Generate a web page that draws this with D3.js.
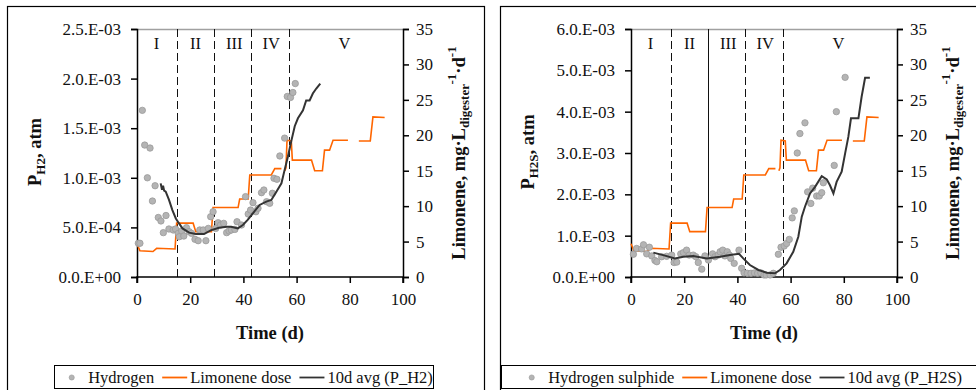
<!DOCTYPE html>
<html><head><meta charset="utf-8">
<script src="https://cdn.jsdelivr.net/npm/d3@7"></script>
<style>
body{margin:0;background:#fff}
svg{display:block;font-family:"Liberation Serif","Times New Roman",serif}
</style>
</head><body>
<svg id="c" width="976" height="390"></svg>
<script>
// ---------- data ----------
const xTicks = [0, 20, 40, 60, 80, 100];
const doseTicks = [0, 5, 10, 15, 20, 25, 30, 35];
const phaseLabels = ["I", "II", "III", "IV", "V"];
const phaseLabelDays = [7.3, 22, 36.6, 50.5, 78];
const phaseBounds = [15, 29, 43, 57];

const h2TickValues = [0, 5e-4, 1e-3, 1.5e-3, 2e-3, 2.5e-3];
const h2TickLabels = ["0.0.E+00", "5.0.E-04", "1.0.E-03", "1.5.E-03", "2.0.E-03", "2.5.E-03"];
const h2sTickValues = [0, 1e-3, 2e-3, 3e-3, 4e-3, 5e-3, 6e-3];
const h2sTickLabels = ["0.0.E+00", "1.0.E-03", "2.0.E-03", "3.0.E-03", "4.0.E-03", "5.0.E-03", "6.0.E-03"];

// Limonene dose (mg/L/d), null = gap
const doseDays =   [0, 1.1, 6, 7.4, 14.3, 14.9, 21.1, 22.1, 28, 28.6, 38, 38.6, 41.8, 42.4, 50.5, 51.8, 54.3, null, 55.6, 56.0, 56.4, 58, 58.4, 65.6, 66.8, 69.7, 70.5, 72.4, 73.7, 79.3, null, 83.4, 87.7, 88.7, 93.1];
const doseValues = [4.7, 3.7, 3.6, 4.05, 3.95, 7.6, 7.6, 6.4, 6.4, 9.8, 9.8, 11, 11, 14.4, 14.4, 15.3, 15.3, null, 15.0, 15.4, 19.3, 19.2, 16.5, 16.5, 15.0, 15.0, 17.9, 17.9, 19.3, 19.3, null, 19.2, 19.2, 22.6, 22.5];

// Hydrogen partial pressure (atm)
const h2Days = [0.5, 1.1, 2.0, 2.9, 4.9, 3.9, 6.8, 5.8, 8.0, 9.0, 10.9, 9.9, 12.0, 13.6, 14.5, 15.5, 15.9, 16.8, 17.6, 18.6, 19.6, 20.5, 21.8, 23.0, 23.6, 24.9, 25.9, 26.8, 27.7, 28.6, 29.6, 30.5, 31.4, 32.6, 33.7, 34.6, 35.5, 36.8, 37.6, 39.3, 40.8, 41.8, 42.7, 43.6, 44.7, 45.5, 46.8, 47.7, 48.7, 49.9, 50.9, 51.5, 52.6, 53.7, 55.5, 56.5, 57.7, 58.6, 59.5];
const h2Values = [3.4e-4, 3.4e-4, 1.68e-3, 1.33e-3, 1.30e-3, 1.00e-3, 9.2e-4, 7.66e-4, 6.0e-4, 5.65e-4, 6.2e-4, 4.47e-4, 4.84e-4, 4.74e-4, 4.84e-4, 4.4e-4, 4.06e-4, 4.64e-4, 4.13e-4, 4.97e-4, 4.57e-4, 4.4e-4, 3.8e-4, 3.66e-4, 4.74e-4, 4.74e-4, 3.66e-4, 4.9e-4, 6.08e-4, 6.58e-4, 4.9e-4, 5.47e-4, 5.24e-4, 5.41e-4, 4.47e-4, 4.64e-4, 4.74e-4, 4.8e-4, 5.57e-4, 5.24e-4, 8.1e-4, 6.35e-4, 6.75e-4, 7.49e-4, 6.58e-4, 6.93e-4, 8.5e-4, 8.77e-4, 7.59e-4, 7.43e-4, 8.44e-4, 9.95e-4, 9.85e-4, 1.22e-3, 1.40e-3, 1.82e-3, 1.81e-3, 1.86e-3, 1.95e-3];

// 10-day average of P_H2 (atm)
const h2AvgDays = [8.9, 9.4, 9.8, 10.2, 10.8, 12.0, 13.3, 14.6, 15.8, 17.1, 19.6, 22.1, 25.2, 27.7, 30.8, 33.8, 35.4, 37.9, 39.8, 41.6, 43.5, 46.1, 48.6, 50.5, 52.4, 54.3, 55.5, 56.7, 58.0, 59.3, 60.5, 62.4, 63.6, 64.9, 66.1, 67.4, 68.9];
const h2AvgValues = [9.44e-4, 8.8e-4, 9.2e-4, 8.7e-4, 8.6e-4, 7.8e-4, 6.75e-4, 5.9e-4, 5.4e-4, 4.9e-4, 4.47e-4, 4.33e-4, 4.33e-4, 4.7e-4, 4.97e-4, 5.07e-4, 5.07e-4, 4.9e-4, 5.24e-4, 5.75e-4, 6.4e-4, 7.26e-4, 7.6e-4, 7.76e-4, 8.6e-4, 9.44e-4, 1.08e-3, 1.21e-3, 1.37e-3, 1.52e-3, 1.6e-3, 1.68e-3, 1.78e-3, 1.78e-3, 1.85e-3, 1.90e-3, 1.95e-3];

// Hydrogen sulphide partial pressure (atm)
const h2sDays = [0.9, 2.1, 4.0, 4.7, 5.9, 6.9, 7.8, 9.0, 9.7, 11.5, 13.4, 15.3, 16.2, 17.2, 18.7, 19.7, 20.9, 21.9, 23.4, 24.4, 25.3, 26.6, 27.8, 29.1, 30.7, 31.6, 32.8, 33.5, 34.5, 35.3, 36.2, 37.0, 37.5, 38.8, 40.6, 41.6, 42.5, 43.7, 45.1, 46.4, 47.6, 48.8, 50.0, 50.8, 52.3, 53.5, 55.4, 56.4, 57.6, 58.5, 59.5, 60.6, 61.4, 62.5, 63.5, 65.4, 66.4, 67.6, 68.3, 69.8, 70.8, 71.7, 72.3, 76.4, 77.2, 80.5];
const h2sValues = [5.5e-4, 6.9e-4, 6.8e-4, 7.8e-4, 5.6e-4, 7.2e-4, 5.1e-4, 4.0e-4, 3.7e-4, 4.9e-4, 5.0e-4, 5.3e-4, 3.5e-4, 3.6e-4, 5.6e-4, 5.9e-4, 6.5e-4, 5.3e-4, 5.3e-4, 4.9e-4, 3.5e-4, 1.9e-4, 5.1e-4, 4.1e-4, 5.6e-4, 4.9e-4, 5.3e-4, 6.1e-4, 6.5e-4, 5.1e-4, 6.1e-4, 5.3e-4, 4.5e-4, 3.3e-4, 6.5e-4, 2.1e-4, 1.0e-4, 9e-5, 9e-5, 1.0e-4, 9e-5, 1.0e-4, 5e-5, 5e-5, 5e-5, 9e-5, 5.5e-4, 7.2e-4, 7.5e-4, 8.1e-4, 9.1e-4, 1.43e-3, 1.6e-3, 3.0e-3, 3.47e-3, 3.73e-3, 2.06e-3, 1.78e-3, 2.15e-3, 1.96e-3, 1.96e-3, 2.04e-3, 2.28e-3, 2.7e-3, 4.0e-3, 4.83e-3];

// 10-day average of P_H2S (atm)
const h2sAvgDays = [8.4, 12.1, 16.5, 19.7, 23.4, 28.5, 33.5, 37.2, 40.6, 42.2, 44.7, 47.9, 51.0, 54.1, 56.0, 58.5, 61.0, 62.9, 64.2, 65.4, 67.3, 69.2, 71.7, 73.6, 74.8, 76.1, 77.3, 79.2, 80.5, 81.7, 82.7, 85.5, 86.7, 88.0, 89.8];
const h2sAvgValues = [5.9e-4, 5.3e-4, 4.5e-4, 4.9e-4, 5.1e-4, 4.5e-4, 4.9e-4, 5.3e-4, 5.6e-4, 4.5e-4, 2.9e-4, 1.7e-4, 1.04e-4, 8.9e-5, 1.7e-4, 3.3e-4, 6.1e-4, 9.75e-4, 1.46e-3, 1.70e-3, 2.02e-3, 2.18e-3, 2.44e-3, 2.36e-3, 2.22e-3, 2.02e-3, 2.3e-3, 2.55e-3, 2.99e-3, 3.39e-3, 3.84e-3, 3.84e-3, 4.36e-3, 4.82e-3, 4.82e-3];

// ---------- drawing ----------
const svg = d3.select("#c");
const ORANGE = "#FF6600", DARK = "#333333";
const SERIF = '"Liberation Serif","Times New Roman",serif';

function zip(a, b) { return a.map((d, i) => (d === null ? null : [d, b[i]])); }

function panel(cfg) {
  const g = svg.append("g");
  g.append("rect").attr("x", cfg.frameX + 0.5).attr("y", 6.5)
    .attr("width", cfg.frameW).attr("height", 420)
    .attr("fill", "#fff").attr("stroke", "#000").attr("stroke-width", 1.2);

  const x = d3.scaleLinear().domain([0, 100]).range([cfg.left, cfg.right]);
  const y = d3.scaleLinear().domain([0, cfg.yMax]).range([cfg.bottom, cfg.top]);
  const y2 = d3.scaleLinear().domain([0, 35]).range([cfg.bottom, cfg.top]);

  g.append("line").attr("x1", cfg.left).attr("x2", cfg.right)
    .attr("y1", cfg.top + 0.5).attr("y2", cfg.top + 0.5)
    .attr("stroke", "#a0a0a0").attr("stroke-width", 1.3);

  phaseBounds.forEach((d, i) => {
    g.append("line").attr("x1", Math.round(x(d)) + 0.5).attr("x2", Math.round(x(d)) + 0.5)
      .attr("y1", cfg.top).attr("y2", cfg.bottom)
      .attr("stroke", "#111").attr("stroke-width", 1)
      .attr("stroke-dasharray", cfg.solidPhase === i ? null : "8,4");
  });
  phaseLabels.forEach((t, i) => {
    g.append("text").attr("x", x(phaseLabelDays[i])).attr("y", cfg.top + 20)
      .attr("text-anchor", "middle").attr("font-size", 16.5).attr("fill", "#111").text(t);
  });

  const fs = 17;
  const ax = g.append("g").attr("transform", `translate(0,${cfg.bottom})`)
    .call(d3.axisBottom(x).tickValues(xTicks).tickSize(6).tickPadding(10).tickFormat(d3.format("d")));
  const ay = g.append("g").attr("transform", `translate(${cfg.left},0)`)
    .call(d3.axisLeft(y).tickValues(cfg.yTickValues).tickSize(6).tickPadding(10)
      .tickFormat((d, i) => cfg.yTickLabels[i]));
  const ay2 = g.append("g").attr("transform", `translate(${cfg.right},0)`)
    .call(d3.axisRight(y2).tickValues(doseTicks).tickSize(6).tickPadding(7).tickFormat(d3.format("d")));
  [ax, ay, ay2].forEach(a => {
    a.attr("font-family", SERIF);
    a.select(".domain").attr("stroke", "#000").attr("stroke-width", 1.5);
    a.selectAll(".tick line").attr("stroke", "#000").attr("stroke-width", 1.5);
    a.selectAll("text").attr("font-size", fs).attr("fill", "#111").attr("font-family", SERIF);
  });
  ax.select(".domain").attr("d", `M${cfg.left},6V0H${cfg.right}V6`);

  const line = d3.line().defined(d => d !== null).x(d => x(d[0]));
  g.append("path").datum(zip(doseDays, doseValues))
    .attr("d", line.y(d => y2(d[1])))
    .attr("fill", "none").attr("stroke", ORANGE).attr("stroke-width", 1.6);

  g.append("g").selectAll("circle").data(zip(cfg.ptDays, cfg.ptValues)).join("circle")
    .attr("cx", d => x(d[0])).attr("cy", d => y(d[1])).attr("r", 3.2)
    .attr("fill", "#b4b4b4").attr("stroke", "#9a9a9a").attr("stroke-width", 0.8);

  const line2 = d3.line().x(d => x(d[0])).y(d => y(d[1]));
  g.append("path").datum(zip(cfg.avgDays, cfg.avgValues))
    .attr("d", line2).attr("fill", "none").attr("stroke", DARK).attr("stroke-width", 2);

  g.append("text").attr("x", (cfg.left + cfg.right) / 2).attr("y", 339)
    .attr("text-anchor", "middle").attr("font-size", 18.5).attr("font-weight", "bold")
    .attr("fill", "#111").text("Time (d)");

  const yt = g.append("text").attr("transform", `translate(${cfg.frameX + 34},152) rotate(-90)`)
    .attr("text-anchor", "middle").attr("font-size", 18.5).attr("font-weight", "bold").attr("fill", "#111");
  yt.append("tspan").text("P");
  yt.append("tspan").attr("font-size", 13).attr("dy", 4).text(cfg.sub);
  yt.append("tspan").attr("dy", -4).text(", atm");

  const rt = g.append("text").attr("transform", `translate(${cfg.right + 62},153) rotate(-90)`)
    .attr("text-anchor", "middle").attr("font-size", 18.5).attr("font-weight", "bold").attr("fill", "#111");
  rt.append("tspan").text("Limonene, mg·L");
  rt.append("tspan").attr("font-size", 13).attr("dy", 4).text("digester");
  rt.append("tspan").attr("font-size", 13).attr("dy", -13).text("-1");
  rt.append("tspan").attr("dy", 9).text("·d");
  rt.append("tspan").attr("font-size", 13).attr("dy", -9).text("-1");

  const lg = g.append("g");
  lg.append("rect").attr("x", cfg.legX + 0.5).attr("y", 365.5).attr("width", cfg.legW).attr("height", 23)
    .attr("fill", "#fff").attr("stroke", "#000").attr("stroke-width", 1);
  let cx = cfg.legDotX;
  lg.append("circle").attr("cx", cx).attr("cy", 377.5).attr("r", 2.6)
    .attr("fill", "#b4b4b4").attr("stroke", "#9a9a9a").attr("stroke-width", 0.6);
  cx += 16.5;
  const items = [{ t: cfg.ptName }, { t: "Limonene dose", c: ORANGE }, { t: cfg.avgName, c: DARK }];
  items.forEach((it, i) => {
    if (i > 0) {
      cx += 8;
      lg.append("line").attr("x1", cx).attr("x2", cx + 25).attr("y1", 377.5).attr("y2", 377.5)
        .attr("stroke", it.c).attr("stroke-width", 1.8);
      cx += 28;
    }
    const t = lg.append("text").attr("x", cx).attr("y", 383).attr("font-size", 16.5).attr("fill", "#111").text(it.t);
    cx += t.node().getComputedTextLength();
  });
}

panel({
  frameX: 7, frameW: 477, left: 137, right: 403, top: 29, bottom: 277,
  yMax: 2.5e-3, yTickValues: h2TickValues, yTickLabels: h2TickLabels, sub: "H2",
  ptDays: h2Days, ptValues: h2Values, avgDays: h2AvgDays, avgValues: h2AvgValues,
  ptName: "Hydrogen", avgName: "10d avg (P_H2)", solidPhase: -1,
  legX: 54, legW: 379, legDotX: 71.7
});
panel({
  frameX: 500, frameW: 490, left: 631, right: 897, top: 29, bottom: 277,
  yMax: 6e-3, yTickValues: h2sTickValues, yTickLabels: h2sTickLabels, sub: "H2S",
  ptDays: h2sDays, ptValues: h2sValues, avgDays: h2sAvgDays, avgValues: h2sAvgValues,
  ptName: "Hydrogen sulphide", avgName: "10d avg (P_H2S)", solidPhase: 1,
  legX: 501, legW: 490, legDotX: 531.7
});
</script>
</body></html>
